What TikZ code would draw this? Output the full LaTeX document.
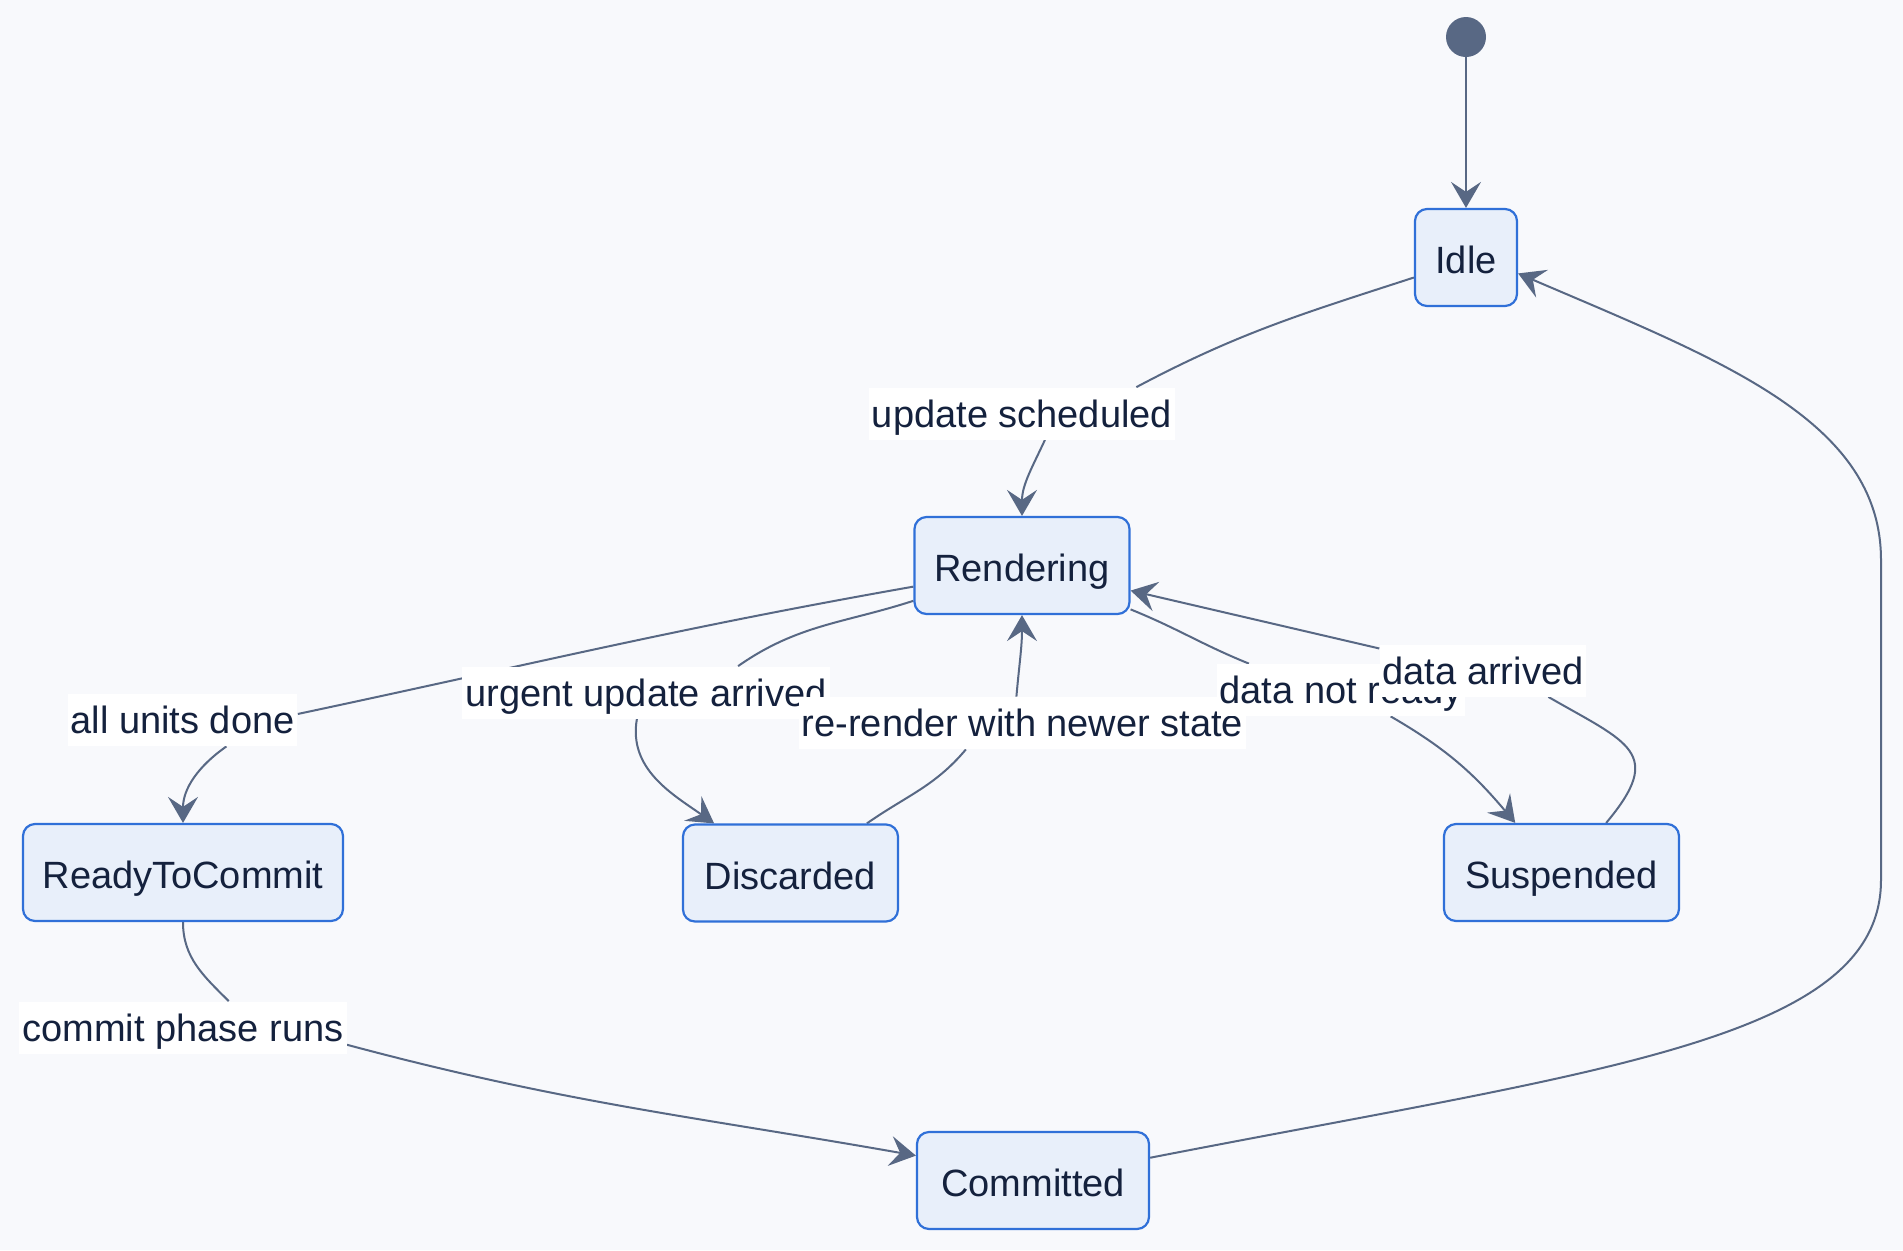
\documentclass[tikz,border=0pt]{standalone}
\usepackage{fontspec}
\setmainfont{Liberation Sans}
\usepackage{tikz}
\usetikzlibrary{arrows.meta,positioning}
\definecolor{bgcol}{RGB}{248,249,252}
\definecolor{statefill}{RGB}{232,239,250}
\definecolor{stateline}{RGB}{48,112,216}
\definecolor{textcol}{RGB}{20,33,61}
\definecolor{conncol}{RGB}{88,104,132}
\pgfdeclarelayer{background}
\pgfsetlayers{background,main}

\begin{document}
\begin{tikzpicture}[x=0.5pt,y=-0.5pt,
	>={Stealth[length=13pt,width=15pt,inset=5pt]},
	state/.style={draw=stateline,fill=statefill,line width=1.1pt,rounded corners=6pt,minimum height=48.5pt,inner xsep=9pt,text height=18pt,text depth=2pt,text=textcol,font=\fontsize{19}{23}\selectfont},
	lbl/.style={fill=white,inner xsep=1.5pt,inner ysep=0pt,minimum height=26pt,text height=15.5pt,text depth=2pt,text=textcol,font=\fontsize{19}{23}\selectfont},
	startdot/.style={circle,fill=conncol,minimum size=20pt,inner sep=0pt},
	conn/.style={draw=conncol,line width=1pt}]
	\useasboundingbox (0,0) rectangle (1903,1250);
	\node[startdot] (start) at (1466,37) {};
	\node[state,minimum width=51pt] (idle) at (1466,257.5) {Idle};
	\node[state,minimum width=107.5pt] (rendering) at (1022,565.5) {Rendering};
	\node[state,minimum width=160pt] (rtc) at (183,872.5) {ReadyToCommit};
	\node[state,minimum width=107.5pt] (discarded) at (790.5,873) {Discarded};
	\node[state,minimum width=117.5pt] (suspended) at (1561.5,872.5) {Suspended};
	\node[state,minimum width=116pt] (committed) at (1033,1180.5) {Committed};
	\node[lbl] (upd) at (1022,413.5) {update scheduled};
	\node[lbl] (all) at (182.5,720) {all units done};
	\node[lbl] (urg) at (646,692.5) {urgent update arrived};
	\node[lbl] (rer) at (1022.5,723) {re-render with newer state};
	\node[lbl] (dnr) at (1341,690) {data not ready};
	\node[lbl] (da) at (1483,670.5) {data arrived};
	\node[lbl] (cpr) at (183,1027.5) {commit phase runs};
	\begin{pgfonlayer}{background}
	\fill[bgcol] (0,0) rectangle (1903,1250);
	\draw[conn,->] (start) -- (idle);
	\draw[conn] (idle.201) to[out=198,in=28] (upd.13);
	\draw[conn,->] (upd.-49) to[out=245,in=90] (rendering.north);
	\draw[conn] (rendering.191) to[out=190,in=12] (all.3);
	\draw[conn,->] (all.-31) to[out=215,in=90] (rtc.north);
	\draw[conn] (rendering.198) to[out=198,in=35] (urg.16);
	\draw[conn,->] (urg.-109) to[out=260,in=145] (discarded.147);
	\draw[conn] (discarded.33) to[out=35,in=230] (rer.205);
	\draw[conn,->] (rer.103) to[out=85,in=-90] (rendering.south);
	\draw[conn] (rendering.-22) to[out=-22,in=158] (dnr.164);
	\draw[conn,->] (dnr.-28) to[out=-30,in=130] (suspended.133);
	\draw[conn] (suspended.48) to[out=50,in=-30,looseness=1.7] (da.-22);
	\draw[conn,->] (da.168) -- (rendering.-13);
	\draw[conn] (rtc.south) to[out=-90,in=135] (cpr.30);
	\draw[conn,->] (cpr.-6) to[out=-15,in=170] (committed.168);
	\draw[conn,->] (committed.11) .. controls (1600,1070) and (1881,1040) .. (1881,880) -- (1881,560) .. controls (1881,420) and (1720,360) .. (idle.-17);
	\end{pgfonlayer}
\end{tikzpicture}
\end{document}
